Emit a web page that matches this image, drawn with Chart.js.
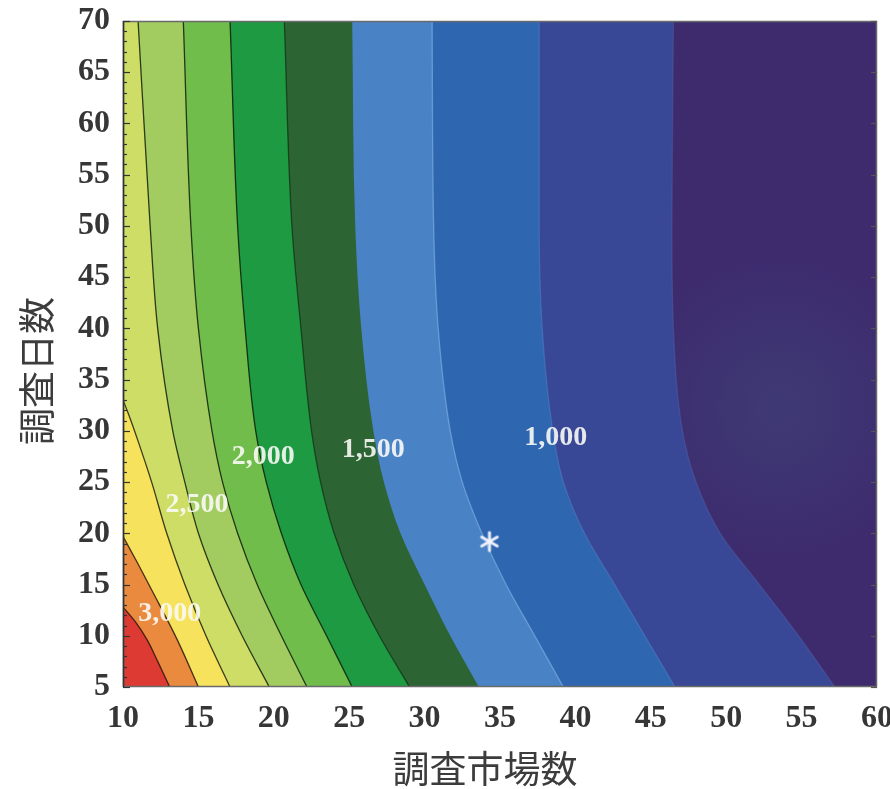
<!DOCTYPE html>
<html>
<head>
<meta charset="utf-8">
<script src="https://cdn.jsdelivr.net/npm/chart.js@4/dist/chart.umd.min.js"></script>
<style>
  html, body { margin: 0; padding: 0; background: #ffffff; }
  #wrap { width: 890px; height: 789px; }
</style>
</head>
<body>
<div id="wrap"><canvas id="c" width="890" height="789"></canvas></div>
<script>
// Axis ticks: number of markets surveyed (x) and number of survey days (y)
const marketTicks = [10, 15, 20, 25, 30, 35, 40, 45, 50, 55, 60];
const dayTicks = [5, 10, 15, 20, 25, 30, 35, 40, 45, 50, 55, 60, 65, 70];

// Contour levels, highest first; each contour is a list of [markets, days]
const levels = [3250, 3000, 2750, 2500, 2250, 2000, 1750, 1500, 1250, 1000, 750];
const contour3250 = [[13.1, 5], [12.3, 7.5], [11.6, 9.6], [10.8, 11.4], [10, 12.8]];
const contour3000 = [[15.0, 5], [13.6, 9.6], [12.0, 14.2], [11.0, 17], [10, 19.7]];
const contour2750 = [[17.1, 5], [15.5, 10], [14.1, 15], [12.9, 20], [11.9, 25], [11.0, 29], [10.4, 31.5], [10, 33]];
const contour2500 = [[19.7, 5], [17.9, 10], [16.3, 15], [15.0, 20], [14.1, 25], [13.3, 30], [12.3, 40], [11.8, 50], [11.0, 70]];
const contour2250 = [[22.2, 5], [20.5, 10], [18.9, 15], [17.6, 20], [16.6, 25], [15.9, 30], [15.0, 40], [14.5, 50], [14.0, 70]];
const contour2000 = [[25.2, 5], [23.5, 10], [21.8, 15], [20.5, 20], [19.5, 25], [18.8, 30], [18.1, 40], [17.6, 50], [17.1, 70]];
const contour1750 = [[29.0, 5], [27.0, 10], [25.3, 15], [24.0, 20], [23.1, 25], [22.5, 30], [21.8, 40], [21.2, 50], [20.7, 70]];
const contour1500 = [[33.6, 5], [31.7, 10], [30.0, 15], [28.4, 20], [27.3, 25], [26.6, 30], [25.8, 40], [25.4, 50], [25.2, 70]];
const contour1250 = [[39.2, 5], [37.3, 10], [35.4, 15], [33.8, 20], [32.5, 25], [31.7, 30], [30.9, 40], [30.6, 50], [30.5, 70]];
const contour1000 = [[46.6, 5], [44.6, 10], [42.6, 15], [40.6, 20], [39.2, 25], [38.5, 30], [37.8, 40], [37.6, 50], [37.6, 70]];
const contour750 = [[57.2, 5], [54.8, 10], [52.2, 15], [49.6, 20], [48.0, 25], [47.1, 30], [46.5, 40], [46.4, 50], [46.5, 70]];

// Contour labels written on the plot
const labelTexts = ['3,000', '2,500', '2,000', '1,500', '1,000'];
const labelMarkets = [13.1, 14.9, 19.3, 26.6, 38.7];
const labelDays = [12.1, 22.8, 27.5, 28.2, 29.3];

// Current survey design (markets, days)
const surveyPoint = [34.3, 19.2];

// ---- styling ----
const contours = [contour3250, contour3000, contour2750, contour2500, contour2250, contour2000,
                  contour1750, contour1500, contour1250, contour1000, contour750];
// colour of the area above each level (left of its contour)
const bandColors = ['#dc3a32', '#ea8a3e', '#f6e25c', '#cddd66', '#a2cc60', '#70bd4c',
                    '#1e9a42', '#2d6434', '#4a82c6', '#2f66b0', '#384896'];
const lowestBandColor = '#3d2b6e';
const lineColors = ['rgba(40,20,10,0.85)', 'rgba(40,25,10,0.85)', 'rgba(30,30,10,0.85)', 'rgba(20,30,10,0.85)',
                    'rgba(15,30,10,0.85)', 'rgba(10,30,10,0.85)', 'rgba(10,30,10,0.6)', 'rgba(0,0,0,0)',
                    'rgba(140,185,235,0.55)', 'rgba(90,130,200,0.45)', 'rgba(90,100,170,0.4)'];

// six-spoke asterisk used as the point style of the survey-design marker
function asteriskGlyph(size, color, width) {
  const cv = document.createElement('canvas');
  cv.width = cv.height = size;
  const g = cv.getContext('2d');
  const c = size / 2, r = size / 2 - width;
  g.strokeStyle = color;
  g.lineWidth = width;
  g.lineCap = 'round';
  for (let k = 0; k < 3; k++) {
    const ang = Math.PI / 2 + k * Math.PI / 3;
    g.beginPath();
    g.moveTo(c - r * Math.cos(ang), c - r * Math.sin(ang));
    g.lineTo(c + r * Math.cos(ang), c + r * Math.sin(ang));
    g.stroke();
  }
  return cv;
}

const datasets = contours.map((pts, i) => ({
  label: String(levels[i]),
  data: pts.map(([x, y]) => ({ x, y })),
  backgroundColor: bandColors[i],
  borderColor: lineColors[i],
  borderWidth: 1.3,
  fill: { value: 10 },
  pointRadius: 0,
  tension: 0.4,
  cubicInterpolationMode: 'monotone'
}));
datasets.push({
  label: '調査',
  data: [{ x: surveyPoint[0], y: surveyPoint[1] }],
  showLine: false,
  fill: false,
  pointStyle: asteriskGlyph(24, 'rgba(245,245,255,0.95)', 3),
  pointRadius: 12,
  order: -1
});

const tickFont = { family: '"Liberation Serif", "DejaVu Serif", serif', size: 32, weight: 'bold' };

// paints the plot background (values below the lowest contour)
const backgroundPlugin = {
  id: 'plotBackground',
  beforeDraw(chart) {
    const { ctx, chartArea: a } = chart;
    ctx.save();
    ctx.fillStyle = lowestBandColor;
    ctx.fillRect(a.left, a.top, a.right - a.left, a.bottom - a.top);
    const gx = a.left + (a.right - a.left) * 0.87, gy = a.top + (a.bottom - a.top) * 0.58;
    const grad = ctx.createRadialGradient(gx, gy, 10, gx, gy, 150);
    grad.addColorStop(0, 'rgba(64,74,126,0.45)');
    grad.addColorStop(1, 'rgba(64,74,126,0)');
    ctx.fillStyle = grad;
    ctx.fillRect(a.left, a.top, a.right - a.left, a.bottom - a.top);
    ctx.restore();
  }
};

// frame, inward tick marks and contour labels
const overlayPlugin = {
  id: 'overlay',
  afterDatasetsDraw(chart) {
    const { ctx, chartArea: a, scales } = chart;
    const xs = scales.x, ys = scales.y;
    ctx.save();
    // frame
    ctx.lineWidth = 1.5;
    ctx.strokeStyle = '#6a6a6a';
    ctx.strokeRect(a.left + 0.5, a.top + 0.5, a.right - a.left - 1, a.bottom - a.top - 1);
    ctx.strokeStyle = '#333';
    ctx.beginPath();
    ctx.moveTo(a.left + 0.5, a.top);
    ctx.lineTo(a.left + 0.5, a.bottom);
    ctx.stroke();
    // tick marks on the left (major and minor) and right (major)
    ctx.lineWidth = 1.2;
    ctx.strokeStyle = '#333';
    for (let d = 5; d <= 70; d++) {
      const py = Math.round(ys.getPixelForValue(d)) + 0.5;
      const len = d % 5 === 0 ? 7 : 4;
      ctx.beginPath();
      ctx.moveTo(a.left, py);
      ctx.lineTo(a.left + len, py);
      ctx.stroke();
      if (d % 5 === 0) {
        ctx.strokeStyle = '#555';
        ctx.beginPath();
        ctx.moveTo(a.right, py);
        ctx.lineTo(a.right - 6, py);
        ctx.stroke();
        ctx.strokeStyle = '#333';
      }
    }
    // contour labels
    ctx.font = 'bold 28px "Liberation Serif", "DejaVu Serif", serif';
    ctx.fillStyle = 'rgba(250,250,245,0.9)';
    ctx.textAlign = 'center';
    ctx.textBaseline = 'middle';
    labelTexts.forEach((t, i) => {
      ctx.fillText(t, xs.getPixelForValue(labelMarkets[i]), ys.getPixelForValue(labelDays[i]));
    });
    ctx.restore();
  },
  afterDraw(chart) {
    const { ctx } = chart;
    ctx.save();
    ctx.fillStyle = '#3c3c3c';
    ctx.font = '37px "Noto Sans CJK JP", sans-serif';
    ctx.textAlign = 'center';
    ctx.textBaseline = 'middle';
    ctx.fillText('調査市場数', 485, 769);
    ctx.translate(37, 371);
    ctx.rotate(-Math.PI / 2);
    ctx.fillText('調査日数', 0, 0);
    ctx.restore();
  }
};

new Chart(document.getElementById('c'), {
  type: 'line',
  data: { datasets },
  options: {
    indexAxis: 'y',
    responsive: false,
    animation: false,
    events: [],
    layout: { padding: { left: 0, top: 21, right: 11, bottom: 0 } },
    plugins: { legend: { display: false }, tooltip: { enabled: false } },
    scales: {
      x: {
        type: 'linear',
        position: 'bottom',
        min: 10,
        max: 60,
        grid: { display: false, drawTicks: false },
        border: { display: false },
        afterBuildTicks: s => { s.ticks = marketTicks.map(v => ({ value: v })); },
        afterFit: s => { s.height = 102; s.paddingLeft = 0; s.paddingRight = 0; },
        ticks: { font: tickFont, color: '#363636', padding: 13, maxRotation: 0, autoSkip: false }
      },
      y: {
        type: 'linear',
        position: 'left',
        min: 5,
        max: 70,
        grid: { display: false, drawTicks: false },
        border: { display: false },
        afterBuildTicks: s => { s.ticks = dayTicks.map(v => ({ value: v })); },
        afterFit: s => { s.width = 123; s.paddingTop = 0; s.paddingBottom = 0; },
        ticks: { font: tickFont, color: '#363636', padding: 13, autoSkip: false }
      }
    }
  },
  plugins: [backgroundPlugin, overlayPlugin]
});
</script>
</body>
</html>
